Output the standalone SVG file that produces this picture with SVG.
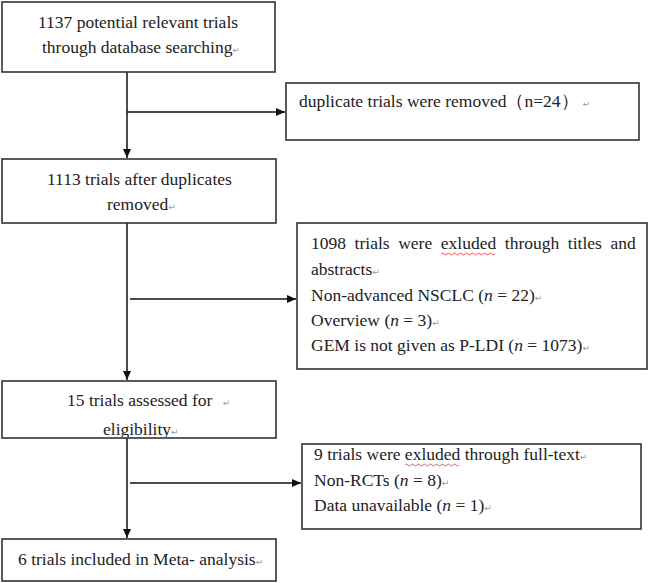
<svg xmlns="http://www.w3.org/2000/svg" width="649" height="583" viewBox="0 0 649 583">
<defs>
<style>
.box{fill:#fff;stroke:#333;stroke-width:1.6}
.t{font-family:"Liberation Serif","Times New Roman",serif;font-size:17.5px;fill:#222}
.rm{font-family:"DejaVu Sans",sans-serif;font-size:9px;fill:#999}
.ln{stroke:#111;stroke-width:1.5;fill:none}
.it{font-style:italic}
.wv{fill:none;stroke:#e03030;stroke-width:0.8}
</style>
<marker id="ah" markerWidth="10" markerHeight="10" refX="9" refY="5" orient="auto" markerUnits="userSpaceOnUse">
<path d="M0,1 L9,5 L0,9 Z" fill="#111"/>
</marker>
<clipPath id="c5"><rect x="2" y="381" width="274" height="56"/></clipPath>
</defs>
<rect width="649" height="583" fill="#fff"/>
<g id="connectors">
<line class="ln" x1="127" y1="72" x2="127" y2="158" marker-end="url(#ah)"/>
<line class="ln" x1="127" y1="112" x2="285" y2="112" marker-end="url(#ah)"/>
<line class="ln" x1="127" y1="223" x2="127" y2="380" marker-end="url(#ah)"/>
<line class="ln" x1="130" y1="299" x2="296" y2="299" marker-end="url(#ah)"/>
<line class="ln" x1="127" y1="438" x2="127" y2="538" marker-end="url(#ah)"/>
<line class="ln" x1="130" y1="483" x2="301" y2="483" marker-end="url(#ah)"/>
</g>
<g id="n1">
<rect class="box" x="2" y="2" width="273" height="70"/>
<text class="t" x="38" y="28">1137 potential relevant trials</text>
<text class="t" x="42" y="53">through database searching<tspan class="rm">↵</tspan></text>
</g>
<g id="n2">
<rect class="box" x="286" y="83" width="353" height="57"/>
<text class="t" x="299" y="107">duplicate trials were removed（n=24）<tspan class="rm" dx="4">↵</tspan></text>
</g>
<g id="n3">
<rect class="box" x="2" y="159" width="274" height="64"/>
<text class="t" x="47" y="185">1113 trials after duplicates</text>
<text class="t" x="107" y="210">removed<tspan class="rm">↵</tspan></text>
</g>
<g id="n4">
<rect class="box" x="297" y="223" width="350" height="146"/>
<text class="t" y="249"><tspan x="311">1098</tspan><tspan x="354.6">trials</tspan><tspan x="398.2">were</tspan><tspan x="440.8">exluded</tspan><tspan x="504.8">through</tspan><tspan x="567.8">titles</tspan><tspan x="610.5">and</tspan></text>
<path class="wv" d="M441,254 q1.5,-2 3,0 t3,0 t3,0 t3,0 t3,0 t3,0 t3,0 t3,0 t3,0 t3,0 t3,0 t3,0 t3,0 t3,0 t3,0 t3,0 t3,0 t3,0"/>
<text class="t" x="311" y="275">abstracts<tspan class="rm">↵</tspan></text>
<text class="t" x="311" y="301">Non-advanced NSCLC (<tspan class="it">n</tspan> = 22)<tspan class="rm">↵</tspan></text>
<text class="t" x="311" y="326">Overview (<tspan class="it">n</tspan> = 3)<tspan class="rm">↵</tspan></text>
<text class="t" x="311" y="351">GEM is not given as P-LDI (<tspan class="it">n</tspan> = 1073)<tspan class="rm">↵</tspan></text>
</g>
<g id="n5">
<rect class="box" x="2" y="381" width="274" height="57"/>
<text class="t" x="67" y="406">15 trials assessed for <tspan class="rm" dx="6">↵</tspan></text>
<text class="t" x="103" y="435" clip-path="url(#c5)">eligibility<tspan class="rm">↵</tspan></text>
</g>
<g id="n6">
<rect class="box" x="302" y="444" width="339" height="85"/>
<text class="t" x="314" y="460">9 trials were exluded through full-text<tspan class="rm">↵</tspan></text>
<path class="wv" d="M405,465 q1.5,-2 3,0 t3,0 t3,0 t3,0 t3,0 t3,0 t3,0 t3,0 t3,0 t3,0 t3,0 t3,0 t3,0 t3,0 t3,0 t3,0 t3,0 t3,0"/>
<text class="t" x="314" y="486">Non-RCTs (<tspan class="it">n</tspan> = 8)<tspan class="rm">↵</tspan></text>
<text class="t" x="314" y="511">Data unavailable (<tspan class="it">n</tspan> = 1)<tspan class="rm">↵</tspan></text>
</g>
<g id="n7">
<rect class="box" x="2" y="539" width="274" height="42"/>
<text class="t" x="18" y="565">6 trials included in Meta- analysis<tspan class="rm">↵</tspan></text>
</g>
</svg>
